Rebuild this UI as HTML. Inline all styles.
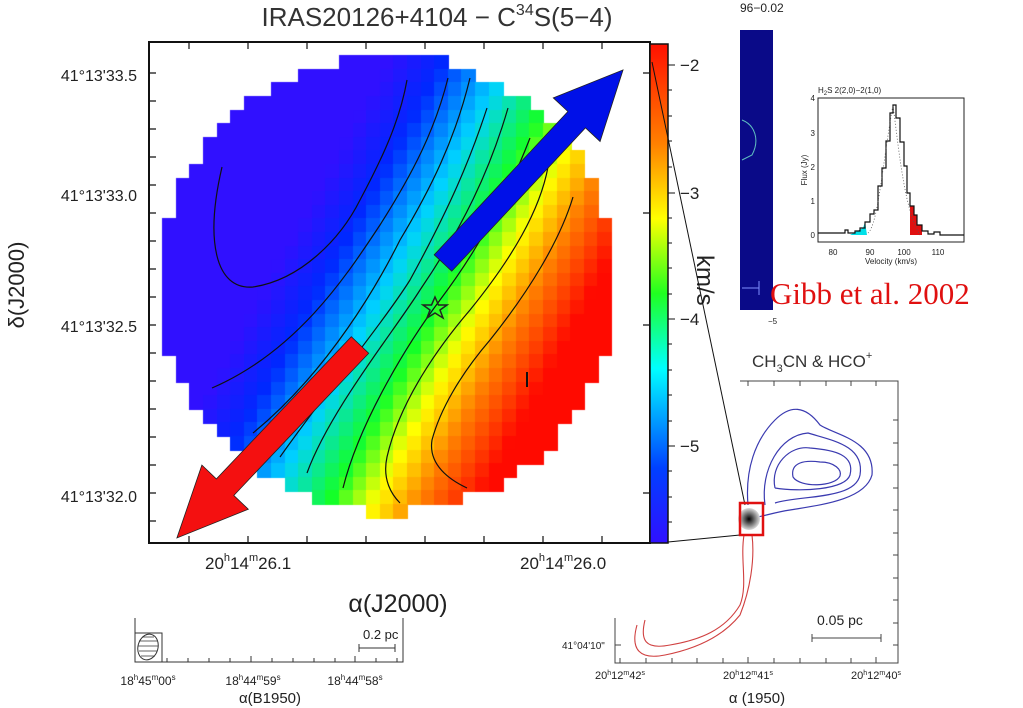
<!DOCTYPE html>
<html><head><meta charset="utf-8"><style>
html,body{margin:0;padding:0;background:#fff;width:1023px;height:708px;overflow:hidden;font-family:"Liberation Sans",sans-serif}
#c{position:absolute;left:0;top:0}
svg{position:absolute;left:0;top:0}
</style></head><body>
<canvas id="c" width="1023" height="708"></canvas>
<svg width="1023" height="708" viewBox="0 0 1023 708" xmlns="http://www.w3.org/2000/svg">
<defs>
<linearGradient id="cb" x1="0" y1="0" x2="0" y2="1">
<stop offset="0" stop-color="#ff1000"/><stop offset="0.2" stop-color="#ff8000"/><stop offset="0.35" stop-color="#ffff00"/><stop offset="0.5" stop-color="#20ff20"/><stop offset="0.65" stop-color="#00ffff"/><stop offset="0.85" stop-color="#0040ff"/><stop offset="1" stop-color="#3010ff"/>
</linearGradient>
<radialGradient id="blob"><stop offset="0" stop-color="#000"/><stop offset="1" stop-color="#ddd"/></radialGradient>
</defs>
<text x="437" y="26" font-size="26" fill="#333" text-anchor="middle">IRAS20126+4104 − C<tspan font-size="16" dy="-11">34</tspan><tspan dy="11">S(5−4)</tspan></text>
<g fill="none" stroke="#111" stroke-width="1.2">
<path d="M407,80 C400,120 383,157 360,200 C340,240 300,280 253,287 C215,290 205,240 222,167"/>
<path d="M448,78 C435,130 413,173 380,225 C350,270 300,350 212,388"/>
<path d="M470,78 C455,140 430,190 400,240 C380,280 330,370 253,433"/>
<path d="M487,108 C470,160 450,207 410,280 C385,320 320,400 280,457"/>
<path d="M508,108 C490,170 463,227 420,290 C395,330 330,410 307,473"/>
<path d="M530,138 C510,190 480,247 440,300 C410,340 360,420 343,488"/>
<path d="M548,167 C540,210 513,257 470,310 C440,345 400,400 387,457 C382,480 392,495 400,503"/>
<path d="M573,197 C560,240 530,290 490,340 C460,375 440,410 432,440 C428,465 450,480 467,488"/>
<path d="M527,372 L527,387" stroke-width="2"/>
</g>
<polygon points="435,297 438.5,305 447,305 440,310 443,318 435,313 427,318 430,310 423,305 431.5,305" fill="none" stroke="#222" stroke-width="1.5"/>
<g transform="translate(443,263) rotate(-47)"><polygon points="0,-12 196,-12 196,-32 264,0 196,32 196,12 0,12" fill="#0010e8" stroke="#222" stroke-width="0.8"/></g>
<g transform="translate(360,345) rotate(133.5)"><polygon points="0,-12 196,-12 196,-32 266,0 196,32 196,12 0,12" fill="#f41010" stroke="#222" stroke-width="0.8"/></g>
<rect x="149" y="42" width="501" height="501" fill="none" stroke="#111" stroke-width="2"/>
<g stroke="#111" stroke-width="1.2">
<path d="M189,42v7M248,42v7M307,42v7M366,42v7M425,42v7M484,42v7M543,42v7M602,42v7M189,543v-7M248,543v-7M307,543v-7M366,543v-7M425,543v-7M484,543v-7M543,543v-7M602,543v-7"/>
<path d="M149,73h7M149,101h7M149,129h7M149,157h7M149,185h7M149,213h7M149,241h7M149,269h7M149,297h7M149,325h7M149,353h7M149,381h7M149,409h7M149,437h7M149,465h7M149,493h7M149,521h7"/>
<path d="M650,73h-7M650,213h-7M650,325h-7M650,493h-7"/>
</g>
<rect x="650" y="44" width="18" height="499" fill="url(#cb)" stroke="#111" stroke-width="1.5"/>
<g stroke="#111" stroke-width="1"><path d="M668,65h7M668,193h7M668,319h7M668,446h7M668,90h4M668,116h4M668,141h4M668,167h4M668,218h4M668,243h4M668,268h4M668,294h4M668,344h4M668,370h4M668,395h4M668,421h4M668,471h4M668,497h4M668,522h4"/></g>
<g font-size="17" fill="#222"><text x="680" y="71">−2</text><text x="680" y="199">−3</text><text x="680" y="325">−4</text><text x="680" y="452">−5</text></g>
<text transform="translate(697,255) rotate(90)" font-size="24" fill="#222">km/s</text>
<line x1="652" y1="62" x2="745" y2="505" stroke="#111"/>
<line x1="668" y1="542" x2="740" y2="535" stroke="#111"/>
<g font-size="16" fill="#222" text-anchor="end"><text x="137" y="81">41°13'33.5</text><text x="137" y="201">41°13'33.0</text><text x="137" y="332">41°13'32.5</text><text x="137" y="502">41°13'32.0</text></g>
<text transform="translate(24,285) rotate(-90)" font-size="22" fill="#222" text-anchor="middle">δ(J2000)</text>
<g font-size="17" fill="#222"><text x="205" y="569">20<tspan font-size="11" dy="-8">h</tspan><tspan dy="8">14</tspan><tspan font-size="11" dy="-8">m</tspan><tspan dy="8">26.1</tspan></text><text x="520" y="569">20<tspan font-size="11" dy="-8">h</tspan><tspan dy="8">14</tspan><tspan font-size="11" dy="-8">m</tspan><tspan dy="8">26.0</tspan></text></g>
<text x="398" y="612" font-size="25" fill="#222" text-anchor="middle">α(J2000)</text>
<g stroke="#333" stroke-width="1" fill="none">
<path d="M135,618V662H403V618"/>
<rect x="135" y="633" width="27" height="29"/>
<ellipse cx="148" cy="647" rx="10" ry="13" transform="rotate(15 148 647)"/>
<path d="M139,641h18M138,646h20M139,651h18M141,656h14M142,637h12" stroke-width="0.8"/>
<path d="M359,648h36M359,644v8M395,644v8"/>
<path d="M167,662v-4M188,662v-4M209,662v-4M230,662v-4M251,662v-6M272,662v-4M293,662v-4M314,662v-4M335,662v-4M355,662v-6M376,662v-4M397,662v-4"/>
</g>
<text x="363" y="639" font-size="13" fill="#222">0.2 pc</text>
<g font-size="12" fill="#222" text-anchor="middle"><text x="148" y="685">18<tspan font-size="8" dy="-5">h</tspan><tspan dy="5">45</tspan><tspan font-size="8" dy="-5">m</tspan><tspan dy="5">00</tspan><tspan font-size="8" dy="-5">s</tspan></text><text x="253" y="685">18<tspan font-size="8" dy="-5">h</tspan><tspan dy="5">44</tspan><tspan font-size="8" dy="-5">m</tspan><tspan dy="5">59</tspan><tspan font-size="8" dy="-5">s</tspan></text><text x="355" y="685">18<tspan font-size="8" dy="-5">h</tspan><tspan dy="5">44</tspan><tspan font-size="8" dy="-5">m</tspan><tspan dy="5">58</tspan><tspan font-size="8" dy="-5">s</tspan></text></g>
<text x="270" y="703" font-size="15" fill="#222" text-anchor="middle">α(B1950)</text>
<text x="752" y="367" font-size="17" fill="#333">CH<tspan font-size="11" dy="5">3</tspan><tspan dy="-5">CN &amp; HCO</tspan><tspan font-size="11" dy="-8">+</tspan></text>
<g stroke="#444" stroke-width="1" fill="none">
<path d="M740,381H898V663H615V618"/>
<path d="M748,381v5M774,381v5M800,381v5M826,381v5M851,381v5M876,381v5"/>
<path d="M898,420h-5M898,443h-5M898,465h-5M898,488h-5M898,510h-5M898,533h-5M898,555h-5M898,578h-5M898,600h-5M898,623h-5M898,645h-5"/>
<path d="M620,663v-5M646,663v-5M672,663v-5M697,663v-5M723,663v-5M748,663v-6M774,663v-5M800,663v-5M826,663v-5M851,663v-5M876,663v-6"/>
<path d="M812,638h69M812,634v8M881,634v8"/>
<path d="M615,645h6"/>
</g>
<text x="817" y="625" font-size="14" fill="#222">0.05 pc</text>
<text x="562" y="649" font-size="10" fill="#222">41°04'10"</text>
<g font-size="11" fill="#222" text-anchor="middle"><text x="620" y="679">20<tspan font-size="7" dy="-4">h</tspan><tspan dy="4">12</tspan><tspan font-size="7" dy="-4">m</tspan><tspan dy="4">42</tspan><tspan font-size="7" dy="-4">s</tspan></text><text x="748" y="679">20<tspan font-size="7" dy="-4">h</tspan><tspan dy="4">12</tspan><tspan font-size="7" dy="-4">m</tspan><tspan dy="4">41</tspan><tspan font-size="7" dy="-4">s</tspan></text><text x="876" y="679">20<tspan font-size="7" dy="-4">h</tspan><tspan dy="4">12</tspan><tspan font-size="7" dy="-4">m</tspan><tspan dy="4">40</tspan><tspan font-size="7" dy="-4">s</tspan></text></g>
<text x="757" y="703" font-size="15" fill="#222" text-anchor="middle">α (1950)</text>
<g fill="none" stroke="#3a3ab0" stroke-width="1.2">
<path d="M748,505 C745,470 755,440 775,420 C790,405 805,405 820,425 C835,435 875,440 872,475 C865,500 820,505 790,510 C770,513 760,518 748,518"/>
<path d="M765,505 C760,470 780,435 808,433 C830,440 865,445 860,475 C855,500 800,495 775,503"/>
<path d="M775,488 C770,465 790,445 810,448 C835,450 855,455 850,475 C845,490 800,492 775,488"/>
<path d="M793,477 C790,462 805,460 820,462 C835,462 842,470 840,476 C835,487 800,488 793,477"/>
</g>
<g fill="none" stroke="#d04040" stroke-width="1.1">
<path d="M744,535 C740,560 748,585 740,605 C725,630 700,640 670,645 C645,650 640,640 645,620"/>
<path d="M752,535 C755,560 750,590 740,615 C720,640 690,650 665,655 C640,660 630,650 637,625"/>
</g>
<circle cx="749" cy="519" r="11" fill="url(#blob)"/>
<rect x="740" y="503" width="23" height="32" fill="none" stroke="#e01010" stroke-width="2.5"/>
<rect x="740" y="30" width="33" height="280" fill="#0a0a88"/>
<path d="M742,120 C755,125 760,140 752,155 L742,160" fill="none" stroke="#60c0c0" stroke-width="1"/>
<path d="M742,288h17M759,281v14" stroke="#8090ff" stroke-width="1"/>
<text x="740" y="12" font-size="12" fill="#222">96−0.02</text>
<text x="768" y="324" font-size="8" fill="#222">−5</text>
<text x="818" y="93" font-size="8" fill="#222">H<tspan font-size="6" dy="2">2</tspan><tspan dy="-2">S 2(2,0)−2(1,0)</tspan></text>
<rect x="818" y="98" width="146" height="144" fill="none" stroke="#222" stroke-width="1"/>
<polygon points="850,235 863,228 865,222 867,235" fill="#00e0e8"/>
<polygon points="910,206 914,206 914,215 917,215 917,225 922,225 922,235 910,235" fill="#e01010"/>
<path d="M818,233 H845 V230 H848 V233 H855 V231 H860 V228 H865 V222 H870 V214 H874 V210 H878 V186 H882 V168 H886 V141 H890 V113 H893 V105 H896 V118 H900 V142 H904 V166 H907 V193 H910 V206 H914 V215 H917 V225 H922 V231 H928 V234 H934 V232 H940 V235 H964" fill="none" stroke="#111" stroke-width="1.2"/>
<path d="M868,233 C878,225 883,160 893,105 C900,160 905,210 920,235" fill="none" stroke="#555" stroke-dasharray="1,2" stroke-width="0.8"/>
<g font-size="8" fill="#222" text-anchor="end"><text x="815" y="101">4</text><text x="815" y="136">3</text><text x="815" y="170">2</text><text x="815" y="204">1</text><text x="815" y="238">0</text></g>
<g font-size="8" fill="#222" text-anchor="middle"><text x="833" y="255">80</text><text x="870" y="255">90</text><text x="904" y="255">100</text><text x="938" y="255">110</text></g>
<text x="891" y="264" font-size="8" fill="#222" text-anchor="middle">Velocity (km/s)</text>
<text transform="translate(807,170) rotate(-90)" font-size="8" fill="#222" text-anchor="middle">Flux (Jy)</text>
<text x="770" y="304" font-size="31" fill="#e01010" font-family="Liberation Serif,serif">Gibb et al. 2002</text>
</svg>
<script>
(function(){
var cv=document.getElementById('c'),x=cv.getContext('2d');
var st=[[0,[48,16,255]],[0.15,[0,40,255]],[0.33,[0,210,255]],[0.5,[20,255,40]],[0.65,[255,255,0]],[0.8,[255,130,0]],[1,[255,10,0]]];
function col(t){t=Math.max(0,Math.min(1,t));for(var i=1;i<st.length;i++){if(t<=st[i][0]){var a=st[i-1],b=st[i],f=(t-a[0])/(b[0]-a[0]);return 'rgb('+[0,1,2].map(function(k){return Math.round(a[1][k]+(b[1][k]-a[1][k])*f)}).join(',')+')';}}return 'rgb(255,10,0)';}
var s=13.6,cx=388,cy=284,r=228;
for(var gy=0;gy<37;gy++)for(var gx=0;gx<37;gx++){
var px=149+gx*s,py=42+gy*s,mx=px+s/2,my=py+s/2;
if((mx-cx)*(mx-cx)+(my-cy)*(my-cy)>r*r)continue;
var u=(mx-435)*0.88+(my-310)*0.48;
var t=u<0?0.5+u/320:0.5+u/260;
x.fillStyle=col(t);x.fillRect(Math.floor(px),Math.floor(py),Math.ceil(s)+1,Math.ceil(s)+1);}
})();
</script>
</body></html>
